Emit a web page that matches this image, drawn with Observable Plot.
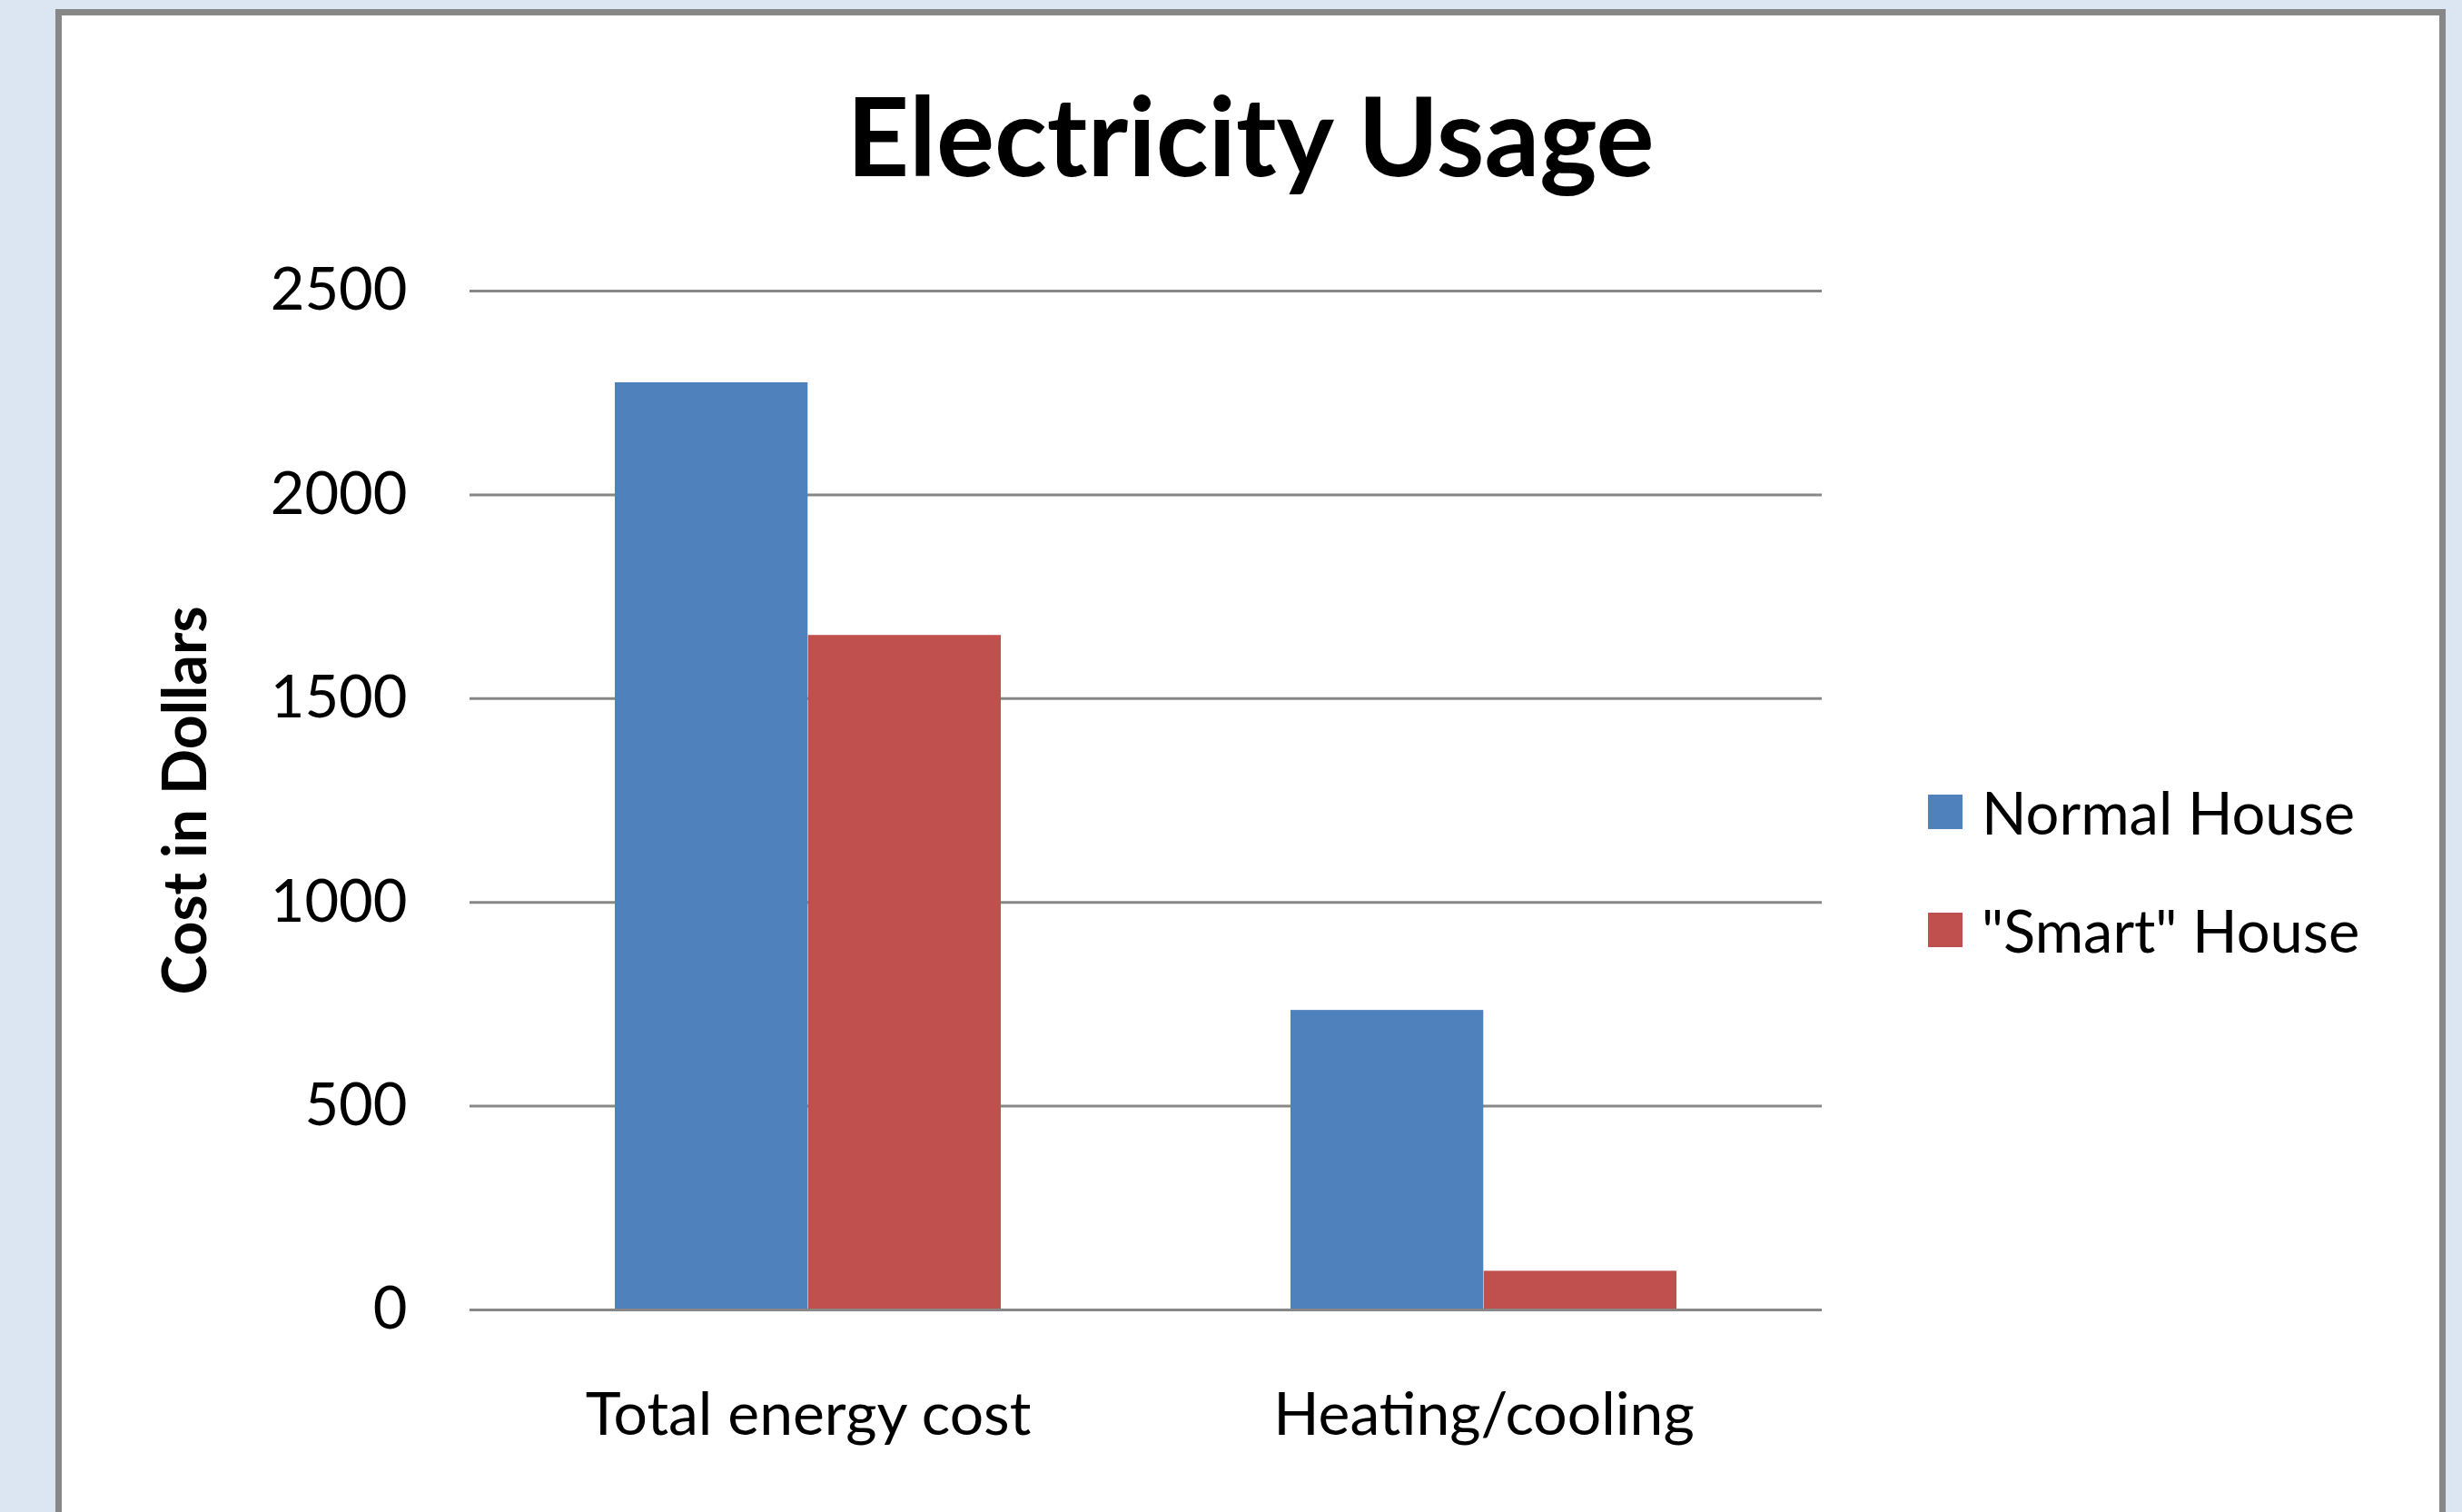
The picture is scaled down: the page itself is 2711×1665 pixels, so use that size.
<!DOCTYPE html>
<html>
<head>
<meta charset="utf-8">
<script src="https://cdn.jsdelivr.net/npm/d3@7"></script>
<script src="https://cdn.jsdelivr.net/npm/@observablehq/plot@0.6"></script>
<style>
  html, body { margin: 0; padding: 0; }
  body { width: 2711px; height: 1665px; overflow: hidden; background: #DCE6F2; position: relative; font-family: Lato, "Open Sans", sans-serif; }
  #panel { position: absolute; left: 61px; top: 10px; width: 2632px; height: 1720px; box-sizing: border-box; border: 7px solid #878787; background: #fff; }
  #chart { position: absolute; left: 68px; top: 17px; }
  #title { position: absolute; left: 68px; top: 88px; width: 2618px; text-align: center; font-size: 120px; line-height: 1; font-weight: bold; color: #000; z-index: 2; }
  #legend { position: absolute; left: 2123px; top: 875px; z-index: 2; }
  .row { display: flex; align-items: center; height: 38px; margin-bottom: 92px; }
  .sw { width: 38px; height: 38px; margin-right: 21px; flex: none; }
  .lab { font-size: 65px; line-height: 1; color: #000; white-space: nowrap; }
</style>
</head>
<body>
<div id="panel"></div>
<div id="chart"></div>
<div id="title">Electricity Usage</div>
<div id="legend"></div>
<script>
const categories = ["Total energy cost", "Heating/cooling"];
const seriesNames = ["Normal House", "\"Smart\" House"];
const normalValues = [2275, 735];
const smartValues = [1655, 95];
const yTicks = [0, 500, 1000, 1500, 2000, 2500];
const seriesColors = ["#4F81BD", "#C0504D"];
const yLabel = "Cost in Dollars";

const rows = categories.flatMap((c, i) => [
  {category: c, series: seriesNames[0], value: normalValues[i]},
  {category: c, series: seriesNames[1], value: smartValues[i]}
]);

const W = 2000, H = 1648, mL = 449, mR = 62, mT = 303, mB = 223;
const gapRatio = 1.5; // gap between groups, in bar widths
const barW = (W - mL - mR) / (categories.length * (2 + gapRatio));
const gray = "#878787";

const plot = Plot.plot({
  width: W, height: H,
  marginLeft: mL, marginRight: mR, marginTop: mT, marginBottom: mB,
  style: {fontFamily: "Lato, 'Open Sans', sans-serif", fontSize: "65px", color: "#000", background: "none", overflow: "visible"},
  x: {domain: categories, paddingInner: gapRatio / (2 + gapRatio), paddingOuter: gapRatio / 2 / (2 + gapRatio), align: 0.5},
  y: {domain: [0, 2500]},
  color: {domain: seriesNames, range: seriesColors},
  marks: [
    Plot.gridY(yTicks, {stroke: gray, strokeOpacity: 1, strokeWidth: 3}),
    Plot.barY(rows.filter(d => d.series === seriesNames[0]), {x: "category", y: "value", fill: "series", insetRight: barW}),
    Plot.barY(rows.filter(d => d.series === seriesNames[1]), {x: "category", y: "value", fill: "series", insetLeft: barW}),
    Plot.ruleY([0], {stroke: gray, strokeWidth: 3}),
    Plot.axisY(yTicks, {tickSize: 0, tickPadding: 69, tickFormat: d => String(d), label: null, line: true, stroke: gray, strokeWidth: 3, fill: "#000", fontSize: 65}),
    Plot.axisX({tickSize: 0, tickPadding: 91, label: null, fill: "#000", fontSize: 66}),
    Plot.text([yLabel], {frameAnchor: "left", textAnchor: "middle", lineAnchor: "middle", rotate: -90, dx: -312, fontWeight: "bold", fontSize: 66, fill: "#000"})
  ]
});
document.getElementById("chart").appendChild(plot);

const color = plot.scale("color");
const legend = document.getElementById("legend");
color.domain.forEach((name, i) => {
  const row = document.createElement("div");
  row.className = "row";
  const sw = document.createElement("div");
  sw.className = "sw";
  sw.style.background = color.range[i];
  const lab = document.createElement("div");
  lab.className = "lab";
  lab.textContent = name;
  row.appendChild(sw); row.appendChild(lab);
  legend.appendChild(row);
});
</script>
</body>
</html>
